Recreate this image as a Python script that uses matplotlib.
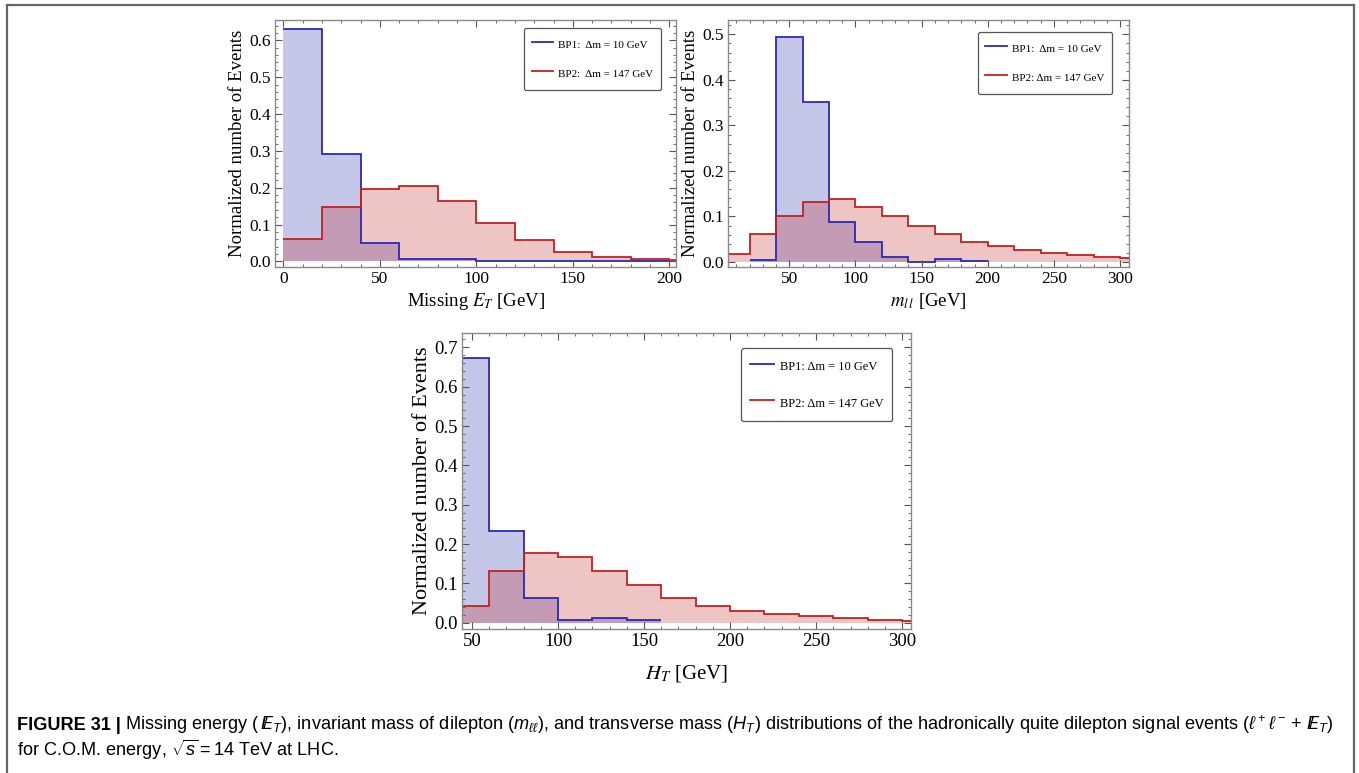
import matplotlib
matplotlib.use("Agg")
import matplotlib.pyplot as plt
from matplotlib.ticker import MultipleLocator, FormatStrFormatter
from matplotlib.lines import Line2D

plt.rcParams['font.family'] = ['Liberation Serif', 'DejaVu Serif']
plt.rcParams['mathtext.fontset'] = 'custom'
plt.rcParams['mathtext.rm'] = 'Liberation Sans'
plt.rcParams['mathtext.it'] = 'Liberation Sans:italic'
plt.rcParams['mathtext.bf'] = 'Liberation Sans:bold'

# ---- data: bin edges [GeV] and normalized number of events ----
met_edges_bp1 = [0, 20, 40, 60, 80, 100, 120, 140, 160, 180, 200]
met_bp1 = [0.631, 0.291, 0.049, 0.006, 0.006, 0.001, 0.001, 0.001, 0.001, 0.001]
met_edges_bp2 = [0, 20, 40, 60, 80, 100, 120, 140, 160, 180, 200, 220]
met_bp2 = [0.060, 0.149, 0.197, 0.204, 0.163, 0.104, 0.058, 0.026, 0.012, 0.006, 0.003]

mll_edges_bp1 = [20, 40, 60, 80, 100, 120, 140, 160, 180, 200]
mll_bp1 = [0.004, 0.495, 0.352, 0.087, 0.043, 0.010, 0.001, 0.007, 0.003]
mll_edges_bp2 = [0, 20, 40, 60, 80, 100, 120, 140, 160, 180, 200, 220, 240, 260, 280, 300, 320]
mll_bp2 = [0.018, 0.061, 0.100, 0.132, 0.138, 0.120, 0.100, 0.078, 0.061, 0.044,
           0.035, 0.026, 0.020, 0.015, 0.011, 0.008]

ht_edges_bp1 = [40, 60, 80, 100, 120, 140, 160]
ht_bp1 = [0.673, 0.234, 0.062, 0.006, 0.012, 0.006]
ht_edges_bp2 = [40, 60, 80, 100, 120, 140, 160, 180, 200, 220, 240, 260, 280, 300, 320]
ht_bp2 = [0.042, 0.132, 0.177, 0.168, 0.132, 0.095, 0.064, 0.043, 0.030, 0.023,
          0.017, 0.012, 0.008, 0.005]

labels_met = ["BP1:  Δm = 10 GeV", "BP2:  Δm = 147 GeV"]
labels_mll = ["BP1:  Δm = 10 GeV", "BP2: Δm = 147 GeV"]
labels_ht = ["BP1: Δm = 10 GeV", "BP2: Δm = 147 GeV"]

blue_line, red_line = '#2a2ab4', '#c02222'
blue_fill, red_fill = (0.25, 0.28, 0.70), (0.75, 0.10, 0.10)
frame_col = '#8a8a8a'


def panel(ax, e1, v1, e2, v2, labels, xlim, ylim, xlabel, fs, lblfs, lfs, lanchor, lsp, bpad):
    ax.stairs(v1, e1, fill=True, color=blue_fill, alpha=0.30, lw=0)
    ax.stairs(v2, e2, fill=True, color=red_fill, alpha=0.25, lw=0)
    ax.stairs(v1, e1, baseline=None, color=blue_line, lw=1.3)
    ax.stairs(v2, e2, baseline=None, color=red_line, lw=1.3)
    ax.set_xlim(*xlim)
    ax.set_ylim(*ylim)
    ax.xaxis.set_major_locator(MultipleLocator(50))
    ax.xaxis.set_minor_locator(MultipleLocator(10))
    ax.yaxis.set_major_locator(MultipleLocator(0.1))
    ax.yaxis.set_minor_locator(MultipleLocator(0.02))
    ax.yaxis.set_major_formatter(FormatStrFormatter('%.1f'))
    ax.tick_params(which='both', direction='in', top=True, right=True,
                   color='#555555', labelsize=fs, pad=3)
    ax.tick_params(which='major', length=5, width=0.8)
    ax.tick_params(which='minor', length=2.5, width=0.6)
    for s in ax.spines.values():
        s.set_color(frame_col)
        s.set_linewidth(1.0)
    ax.set_xlabel(xlabel, fontsize=lblfs, math_fontfamily='stix', labelpad=3)
    ax.set_ylabel("Normalized number of Events", fontsize=lblfs, labelpad=2)
    handles = [Line2D([], [], color=blue_line, lw=1.3), Line2D([], [], color=red_line, lw=1.3)]
    leg = ax.legend(handles, labels, loc='upper right', bbox_to_anchor=lanchor,
                    borderaxespad=0, fontsize=lfs, frameon=True, fancybox=True,
                    edgecolor='#555555', handlelength=1.9, handleheight=2.0,
                    labelspacing=lsp, borderpad=bpad, handletextpad=0.5)
    leg.get_frame().set_linewidth(0.9)
    leg.get_frame().set_alpha(1)


fig = plt.figure(figsize=(13.59, 7.73), dpi=100)

ax1 = fig.add_axes([0.2024, 0.6546, 0.2951, 0.3195])
panel(ax1, met_edges_bp1, met_bp1, met_edges_bp2, met_bp2, labels_met,
      (-4.3, 203.5), (-0.015, 0.655), r"Missing $E_T$ [GeV]", 12.5, 13.5, 8,
      (0.963, 0.968), 1.1, 0.7)

ax2 = fig.add_axes([0.5357, 0.6546, 0.2951, 0.3195])
panel(ax2, mll_edges_bp1, mll_bp1, mll_edges_bp2, mll_bp2, labels_mll,
      (3.7, 306.8), (-0.011, 0.5315), r"$m_{l\,l}$ [GeV]", 12.5, 13.5, 8,
      (0.958, 0.951), 1.1, 0.7)

ax3 = fig.add_axes([0.3400, 0.1863, 0.3304, 0.3829])
panel(ax3, ht_edges_bp1, ht_bp1, ht_edges_bp2, ht_bp2, labels_ht,
      (44.2, 305.2), (-0.016, 0.7365), r"$H_T$ [GeV]", 13.5, 16, 9,
      (0.958, 0.949), 1.35, 0.7)
ax3.xaxis.label.set_size(15)
ax3.xaxis.labelpad = 9

# outer frame (left, top, right)
W, H = 1359, 773
for xs, ys in [((7, 7), (0, H - 4.5)), ((7, 1354), (H - 4.5, H - 4.5)), ((1354, 1354), (0, H - 4.5))]:
    fig.add_artist(Line2D([x / W for x in xs], [y / H for y in ys], color='#666666', lw=1.6))

# caption
cap_fs = 13.1
t1 = fig.text(17 / W, 1 - 725 / H, "FIGURE 31 |", fontsize=cap_fs, fontweight='bold',
              family='Liberation Sans', va='center', ha='left')
renderer = fig.canvas.get_renderer()
bb = t1.get_window_extent(renderer)
fig.text(bb.x1 / W + 4 / W, 1 - 725 / H,
         r"Missing energy ($\,\,/\!\!\!E_T$), invariant mass of dilepton ($m_{\ell\ell}$), and transverse mass ($H_T$) "
         r"distributions of the hadronically quite dilepton signal events ($\ell^+\ell^- +\,\,/\!\!\!E_T$)",
         fontsize=cap_fs, family='Liberation Sans', va='center', ha='left')
fig.text(17 / W, 1 - 750 / H, r"for C.O.M. energy, $\sqrt{s} = 14$ TeV at LHC.",
         fontsize=cap_fs, family='Liberation Sans', va='center', ha='left')

fig.savefig("out.png", dpi=100)
